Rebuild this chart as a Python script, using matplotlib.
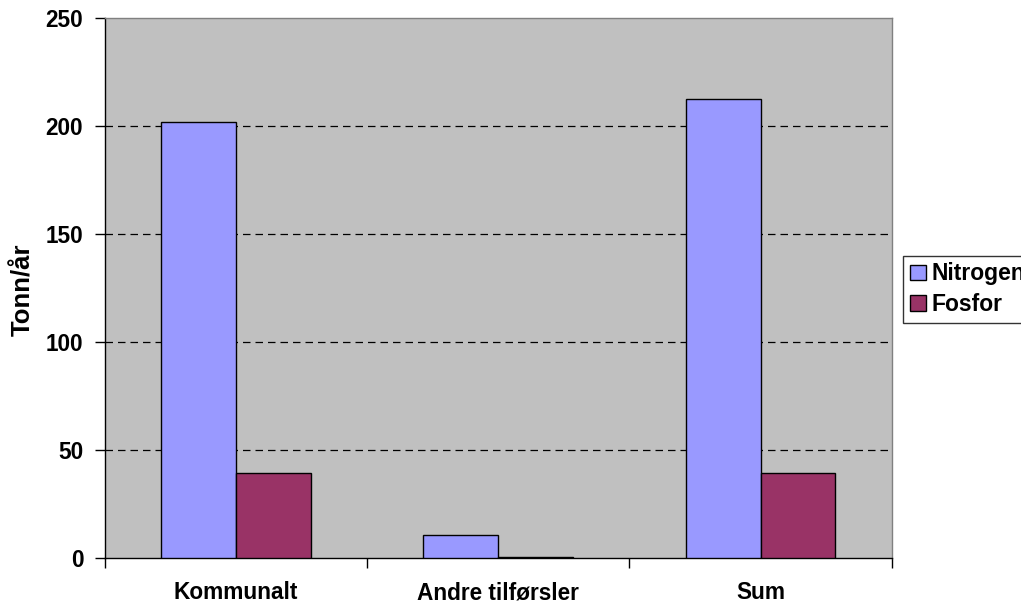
import matplotlib
matplotlib.use("Agg")
import matplotlib.pyplot as plt
import numpy as np
from matplotlib.patches import Patch

categories = ["Kommunalt", "Andre tilførsler", "Sum"]
nitrogen = [202, 10.8, 212.8]
fosfor = [39.5, 0.4, 39.5]
series_names = ["Nitrogen", "Fosfor"]
yticks = [0, 50, 100, 150, 200, 250]

plt.rcParams['font.family'] = ['Liberation Sans', 'DejaVu Sans']
plt.rcParams['font.weight'] = 'bold'

W, H = 1021, 604
fig = plt.figure(figsize=(W/100, H/100), dpi=100)
ax = fig.add_axes([104.7/W, 1-558.3/H, (891.7-104.7)/W, (558.3-18.3)/H])

col_n = "#9999FF"
col_f = "#993366"
bw = 1/3.5
x = np.arange(len(categories))
ax.bar(x - bw/2, nitrogen, width=bw, color=col_n, edgecolor='black', linewidth=1.0, zorder=3)
ax.bar(x + bw/2, fosfor, width=bw, color=col_f, edgecolor='black', linewidth=1.0, zorder=3)

ax.set_facecolor("#C0C0C0")
ax.set_xlim(-0.5, len(categories) - 0.5)
ax.set_ylim(0, 250)
ax.set_yticks(yticks)
ax.set_yticklabels([str(v) for v in yticks], fontsize=16.3, fontweight='bold')
for v in yticks[1:-1]:
    ax.axhline(v, color='black', linewidth=0.9, linestyle=(0, (6, 4)), zorder=1)

ax.set_xticks(x)
ax.set_xticklabels(categories, fontsize=16.3, fontweight='bold')
ax.set_xticks(np.arange(len(categories) + 1) - 0.5, minor=True)
ax.tick_params(axis='x', which='major', length=0, pad=16.5)
ax.tick_params(axis='x', which='minor', length=7, width=1, direction='out', color='black')
ax.tick_params(axis='y', length=7.5, width=1, direction='out', pad=8)

for s in ['top', 'right']:
    ax.spines[s].set_color('#808080')
    ax.spines[s].set_linewidth(1.0)
for s in ['left', 'bottom']:
    ax.spines[s].set_color('black')
    ax.spines[s].set_linewidth(1.0)

fig.text(23/W, 1-290/H, "Tonn/år", rotation=90, ha='center', va='center',
         fontsize=18.5, fontweight='bold')

handles = [Patch(facecolor=col_n, edgecolor='black', linewidth=1.0),
           Patch(facecolor=col_f, edgecolor='black', linewidth=1.0)]
leg = fig.legend(handles, series_names, loc='upper left',
                 bbox_to_anchor=(903/W, 1-255.5/H), bbox_transform=fig.transFigure,
                 prop={'weight': 'bold', 'size': 16.5},
                 frameon=True, fancybox=False, borderpad=0.3,
                 handlelength=0.7, handleheight=0.65, handletextpad=0.25,
                 labelspacing=0.33, borderaxespad=0)
leg.get_frame().set_edgecolor('black')
leg.get_frame().set_linewidth(1.0)

fig.savefig("out.png", dpi=100, facecolor='white')
